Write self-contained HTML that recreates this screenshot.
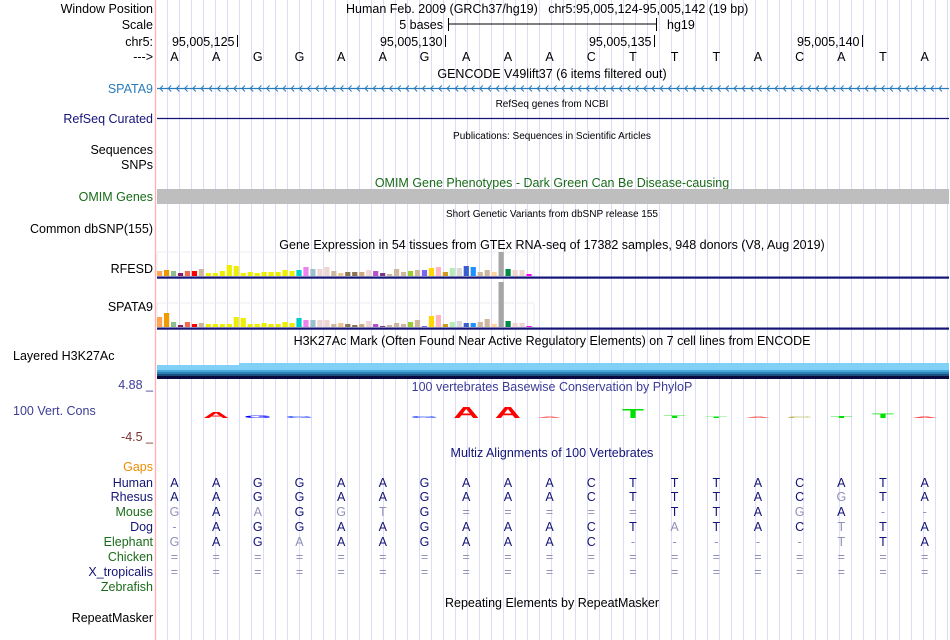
<!DOCTYPE html>
<html><head><meta charset="utf-8">
<style>
html,body{margin:0;padding:0;background:#fff;}
svg{display:block;font-family:"Liberation Sans",Arial,sans-serif;}
</style></head>
<body>
<svg id="c" width="950" height="640" viewBox="0 0 950 640">
<g id="grid"></g>
<line x1="155.5" y1="0" x2="155.5" y2="640" stroke="#ffb0b0" stroke-width="1.3"/>
<g font-size="12.5" fill="#000" text-anchor="end">
<text x="153" y="13">Window Position</text>
<text x="153" y="29">Scale</text>
<text x="153" y="46">chr5:</text>
<text x="153" y="61">---&gt;</text>
<text x="153" y="93" fill="#2b7bba">SPATA9</text>
<text x="153" y="123" fill="#141478">RefSeq Curated</text>
<text x="153" y="154">Sequences</text>
<text x="153" y="169">SNPs</text>
<text x="153" y="201" fill="#1a6b1a">OMIM Genes</text>
<text x="153" y="233">Common dbSNP(155)</text>
<text x="153" y="273">RFESD</text>
<text x="153" y="311">SPATA9</text>
<text x="13" y="360" text-anchor="start">Layered H3K27Ac</text>
<text x="153" y="389" fill="#3c3c96">4.88 _</text>
<text x="13" y="415" text-anchor="start" fill="#3c3c96">100 Vert. Cons</text>
<text x="153" y="441" fill="#7f3030">-4.5 _</text>
<text x="153" y="471" fill="#f08c00">Gaps</text>
<text x="153" y="487" fill="#141478">Human</text>
<text x="153" y="501" fill="#141478">Rhesus</text>
<text x="153" y="516" fill="#1a6b1a">Mouse</text>
<text x="153" y="531" fill="#141478">Dog</text>
<text x="153" y="546" fill="#1a6b1a">Elephant</text>
<text x="153" y="561" fill="#1a6b1a">Chicken</text>
<text x="153" y="576" fill="#141478">X_tropicalis</text>
<text x="153" y="591" fill="#1a6b1a">Zebrafish</text>
<text x="153" y="622">RepeatMasker</text>
</g>
<g font-size="12.5">
<text x="346" y="13">Human Feb. 2009 (GRCh37/hg19)&#160;&#160;&#160;chr5:95,005,124-95,005,142 (19 bp)</text>
<text x="443" y="29" text-anchor="end">5 bases</text>
<line x1="448" y1="24" x2="657" y2="24" stroke="#000"/>
<line x1="448.5" y1="18" x2="448.5" y2="31" stroke="#000"/>
<line x1="656.5" y1="18" x2="656.5" y2="31" stroke="#000"/>
<text x="667" y="29">hg19</text>
<g id="ticks"></g>
<g id="bases" text-anchor="middle"></g>
</g>
<g font-size="12.5" text-anchor="middle">
<text x="552" y="78">GENCODE V49lift37 (6 items filtered out)</text>
<text x="552" y="107" font-size="10">RefSeq genes from NCBI</text>
<text x="552" y="139" font-size="10">Publications: Sequences in Scientific Articles</text>
<text x="552" y="187" fill="#1a6b1a">OMIM Gene Phenotypes - Dark Green Can Be Disease-causing</text>
<text x="552" y="217" font-size="10">Short Genetic Variants from dbSNP release 155</text>
<text x="552" y="249">Gene Expression in 54 tissues from GTEx RNA-seq of 17382 samples, 948 donors (V8, Aug 2019)</text>
<text x="552" y="345">H3K27Ac Mark (Often Found Near Active Regulatory Elements) on 7 cell lines from ENCODE</text>
<text x="552" y="391" fill="#3c3c96">100 vertebrates Basewise Conservation by PhyloP</text>
<text x="552" y="457" fill="#141478">Multiz Alignments of 100 Vertebrates</text>
<text x="552" y="607">Repeating Elements by RepeatMasker</text>
</g>
<g id="spata9"></g>
<line x1="157" y1="118.5" x2="949" y2="118.5" stroke="#141478" stroke-width="1.2"/>
<rect x="157" y="189" width="792" height="15" fill="#bebebe"/>
<g id="gtex"></g>
<g>
<rect x="157" y="365" width="82" height="5" fill="#80d0f8"/>
<rect x="239" y="363" width="710" height="7" fill="#80d0f8"/>
<rect x="157" y="370" width="792" height="2" fill="#46a8d8"/>
<rect x="157" y="372" width="792" height="2" fill="#2c80b4"/>
<rect x="157" y="374" width="792" height="2" fill="#1a4d80"/>
<rect x="157" y="376" width="792" height="3" fill="#0a0a40"/>
</g>
<g id="cons"></g>
<g id="multiz" font-size="12.5" text-anchor="middle"></g>
</svg>
<script>
const NS='http://www.w3.org/2000/svg';
function mk(tag,attrs,parent){const e=document.createElementNS(NS,tag);for(const k in attrs)e.setAttribute(k,attrs[k]);parent.appendChild(e);return e;}
// ---- data ----
const refBases="AAGGAAGAAACTTTACATA".split('');
const tickLabels=["95,005,125","95,005,130","95,005,135","95,005,140"];
const tickBaseIdx=[1,6,11,16];
const tissueColors=["#FFA54F","#EE9A00","#8FBC8F","#8B1C62","#EE6A50","#FF0000","#CDB79E",
"#EEEE00","#EEEE00","#EEEE00","#EEEE00","#EEEE00","#EEEE00","#EEEE00","#EEEE00","#EEEE00","#EEEE00","#EEEE00","#EEEE00","#EEEE00",
"#00CDCD","#EE82EE","#9AC0CD","#EED5D2","#EED5D2","#CDB79E","#EEC591","#8B7355","#8B7355","#CDAA7D","#EED5D2",
"#B452CD","#7A378B","#CDB79E","#CDB79E","#CDB79E","#9ACD32","#CDB79E","#7A67EE","#FFD700","#FFB6C1","#CD9B1D",
"#B4EEB4","#D9D9D9","#3A5FCD","#1E90FF","#CDB79E","#CDB79E","#FFD39B","#A6A6A6","#008B45","#EED5D2","#EED5D2","#FF00FF"];
const rfesdValues=[5,6,5,3,5,5,7, 3,3,5,11,10,3,4,3,4,4,4,6,5, 6,9,7,7,9,5,3,4,4,4,6, 5,3,2,7,4,5,6,6,8,9,4, 8,8,10,9,4,6,4,24,7,6,6,2];
const spata9Values=[10,14,5,2,5,3,4, 3,3,3,3,10,9,3,3,4,3,3,5,4, 9,7,7,7,7,3,4,3,2,3,6, 3,1,2,4,3,5,7,1,11,12,3, 5,6,4,4,5,8,3,45,6,4,4,1];
const consScores=[0,6,3,2,0,0,2,12,12,1,0,10,3,1.5,1,1.5,2,5,1.5];
const consLetters="-AGGAAGAAA-TTTACTTA".split('');
const consColors=["#000","#ff0000","#0000ff","#3050ff","#000","#000","#3050ff","#ff0000","#ff0000","#ff6060","#000","#00e000","#00e000","#00e000","#ff6060","#b0a830","#00e000","#00e000","#ff4040"];
const speciesRows=[
 ["human","AAGGAAGAAACTTTACATA",487],
 ["rhesus","AAGGAAGAAACTTTACGTA",501],
 ["mouse","GAAGGTG=====TTAGA--",516],
 ["dog","-AGGAAGAAACTATACTTA",531],
 ["elephant","GAGAAAGAAAC-----TTA",546],
 ["chicken","===================",561],
 ["x-tropicalis","===================",576]
];
// ---- axes ----
const x0=153.6, bw=41.68;
function bx(i){return x0+bw*i;}
function bc(i){return x0+bw*(i+0.5);}
const grid=document.getElementById('grid');
for(let x=167;x<950;x+=12){mk('line',{x1:x+0.5,y1:0,x2:x+0.5,y2:640,stroke:'#dcdcf6','stroke-width':1},grid);}
const ticks=document.getElementById('ticks');
tickLabels.forEach((t,k)=>{
 const x=Math.round(bx(tickBaseIdx[k]+1))+0.5;
 const ln=mk('line',{x1:x,y1:35,x2:x,y2:47,stroke:'#000'},ticks);
 
 
 const tx=mk('text',{x:x-3,y:46,'text-anchor':'end'},ticks);tx.textContent=t;
 
 
});
const bases=document.getElementById('bases');
refBases.forEach((b,i)=>{const t=mk('text',{x:bc(i),y:61},bases);t.textContent=b;
 
 });
const sp=document.getElementById('spata9');
mk('line',{x1:157,y1:88.5,x2:949,y2:88.5,stroke:'#2b7bba','stroke-width':1.2},sp);
for(let x=160;x<947;x+=8.2){mk('polyline',{points:`${x+3},85.5 ${x},88.5 ${x+3},91.5`,fill:'none',stroke:'#2b7bba','stroke-width':1},sp);}
const gtex=document.getElementById('gtex');
const pitch=6.97, gx0=157;
function gtexRow(vals,base,name){
 mk('rect',{x:157,y:base-24,width:377,height:24,fill:'none',stroke:'#eeeeee'},gtex);
 vals.forEach((v,i)=>{
  const r=mk('rect',{x:gx0+pitch*i,y:base-v,width:5.2,height:v,fill:tissueColors[i]},gtex);
  
  
 });
 mk('rect',{x:157,y:base+0.5,width:792,height:2.2,fill:'#141478'},gtex);
}
gtexRow(rfesdValues,276,'rfesd');
gtexRow(spata9Values,327,'spata9');
const cons=document.getElementById('cons');
const cBase=418;
consScores.forEach((s,i)=>{
 if(s<=0)return;
 const ch=consLetters[i];
 const g=mk('g',{transform:`translate(${bc(i)},${cBase}) scale(3.0,${s/9})`},cons);
 const t=mk('text',{x:0,y:0,'text-anchor':'middle','font-size':12,'font-weight':'bold',fill:consColors[i]},g);
 t.textContent=ch;
 
 
});
const mz=document.getElementById('multiz');
speciesRows.forEach(([name,seq,y])=>{
 seq.split('').forEach((c,i)=>{
  const match=(c===refBases[i]);
  const t=mk('text',{x:bc(i),y:y,fill:match?'#141478':'#9090b8'},mz);
  t.textContent=c;
  
  
 });
});
</script>
</body></html>
